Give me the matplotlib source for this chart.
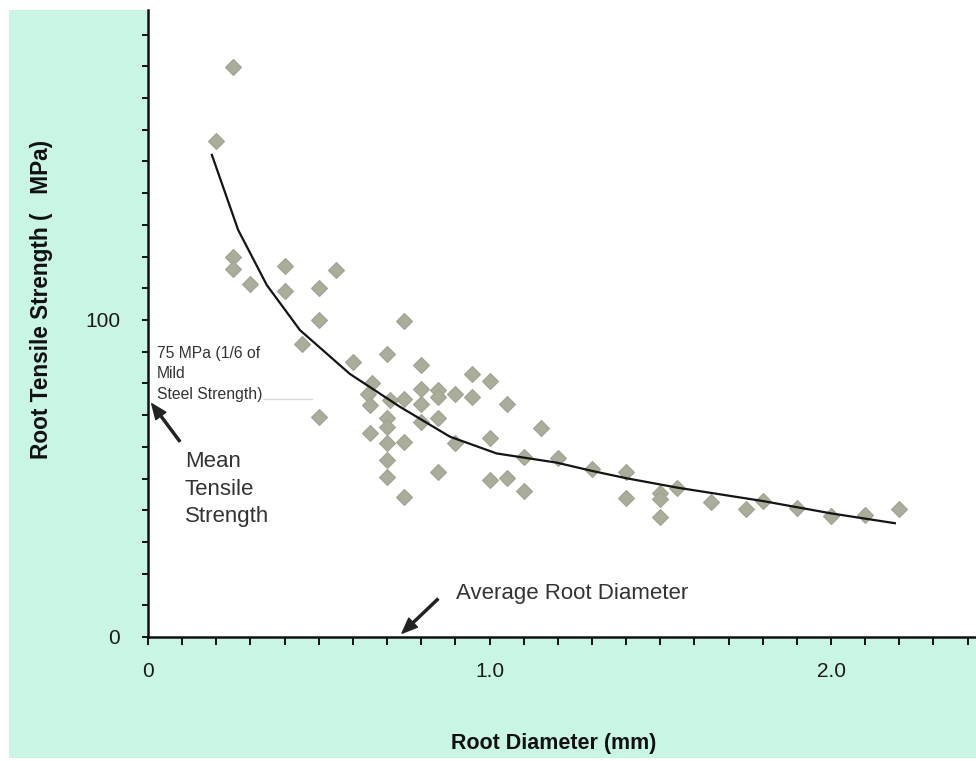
import matplotlib
matplotlib.use("Agg")
import matplotlib.pyplot as plt
from matplotlib.patches import Rectangle
from matplotlib.ticker import MultipleLocator, FixedLocator

plt.rcParams['font.family'] = ['Liberation Sans', 'DejaVu Sans']

# measured roots: diameter (mm) and tensile strength (MPa)
diameter = [0.25, 0.20, 0.25, 0.25, 0.30, 0.40, 0.40, 0.50, 0.55, 0.50,
            0.45, 0.50, 0.60, 0.75, 0.70, 0.80, 0.95, 1.00, 0.655, 0.645,
            0.65, 0.80, 0.85, 0.85, 0.90, 0.95, 0.75, 0.71, 0.80, 1.05,
            0.70, 0.70, 0.80, 0.85, 0.65, 0.70, 0.75, 0.90, 1.00, 1.15,
            0.70, 1.10, 1.20, 1.30, 1.40, 0.70, 0.85, 1.00, 1.05, 1.10,
            0.75, 1.40, 1.50, 1.50, 1.50, 1.55, 1.65, 1.75, 1.80, 1.90,
            2.00, 2.10, 2.20]
strength = [179.8, 156.5, 120.0, 116.1, 111.4, 117.1, 109.1, 110.0, 115.8, 100.0,
            92.4, 69.4, 86.8, 99.8, 89.3, 85.8, 83.0, 80.8, 80.0, 76.6,
            73.2, 78.1, 77.9, 75.8, 76.6, 75.8, 75.1, 74.8, 73.4, 73.5,
            69.2, 66.4, 67.9, 69.0, 64.5, 61.1, 61.6, 61.3, 62.7, 66.0,
            55.8, 56.9, 56.4, 52.9, 52.0, 50.6, 51.9, 49.4, 50.3, 46.1,
            44.1, 43.8, 45.3, 43.6, 37.8, 47.1, 42.5, 40.4, 43.0, 40.6,
            38.3, 38.5, 40.3]

# fitted trend line
fit_d = [0.187, 0.264, 0.348, 0.445, 0.591, 0.738, 0.884, 1.021, 1.197, 1.30,
         1.40, 1.551, 1.80, 2.00, 2.187]
fit_s = [152.1, 128.4, 111.0, 96.8, 83.0, 72.6, 63.2, 57.9, 55.0, 52.4,
         50.1, 47.1, 42.9, 39.0, 35.9]

mild_steel_sixth = 75
avg_diameter = 0.738

MINT = '#c9f6e4'

fig = plt.figure(figsize=(9.76, 7.61), dpi=100, facecolor='white')
fig.patches.append(Rectangle((9 / 976, 3 / 761), 1, 748 / 761,
                             transform=fig.transFigure, facecolor=MINT,
                             edgecolor='none', zorder=-10))

ax = fig.add_axes([148 / 976, 124 / 761, 828 / 976, 627 / 761])
ax.set_facecolor('white')
ax.set_xlim(0, 828 / 341.5)
ax.set_ylim(0, 627 / 3.17)

for s in ['top', 'right']:
    ax.spines[s].set_visible(False)
for s in ['left', 'bottom']:
    ax.spines[s].set_linewidth(1.8)
    ax.spines[s].set_color('#111111')

ax.xaxis.set_major_locator(FixedLocator([0, 1, 2]))
ax.xaxis.set_minor_locator(MultipleLocator(0.1))
ax.set_xticklabels(['0', '1.0', '2.0'])
ax.yaxis.set_major_locator(FixedLocator([0, 100]))
ax.yaxis.set_minor_locator(MultipleLocator(10))
ax.set_yticklabels(['0', '100'])
ax.tick_params(axis='x', which='both', direction='out', length=6, width=1.4,
               color='#111111', labelsize=15, labelcolor='#1a1a1a', pad=12)
ax.tick_params(axis='y', which='both', direction='out', length=4, width=1.4,
               color='#111111', labelsize=15, labelcolor='#1a1a1a', pad=16)

ax.plot(diameter, strength, linestyle='none', marker='D', markersize=8,
        markerfacecolor='#aaad99', markeredgecolor='#a0a38f', markeredgewidth=0.8,
        zorder=3)
ax.plot(fit_d, fit_s, color='#141414', linewidth=1.6, zorder=4)

# faint reference line at 75 MPa
ax.plot([0.34, 0.48], [mild_steel_sixth, mild_steel_sixth], color='#d8d8d8',
        linewidth=1, zorder=1)

ax.text(0.026, 91.8, '75 MPa (1/6 of\nMild\nSteel Strength)', fontsize=11.3,
        color='#333333', va='top', ha='left', linespacing=1.45)

arrow_style = 'simple,head_width=0.9,head_length=1.1,tail_width=0.15'
ax.annotate('', xy=(0.006, mild_steel_sixth - 0.7), xytext=(0.098, 61.0),
            arrowprops=dict(arrowstyle=arrow_style, color='#222222'))
ax.text(0.108, 58.6, 'Mean\nTensile\nStrength', fontsize=16, color='#333333',
        va='top', ha='left', linespacing=1.4)

ax.annotate('', xy=(avg_diameter, 0.6), xytext=(0.855, 12.6),
            arrowprops=dict(arrowstyle=arrow_style, color='#222222'))
ax.text(0.902, 13.8, 'Average Root Diameter', fontsize=16, color='#333333',
        va='center', ha='left')

fig.text(554 / 976, 1 - 743 / 761, 'Root Diameter (mm)', fontsize=15.5,
         fontweight='bold', ha='center', va='center', color='#111111')
fig.text(42 / 976, 1 - 299 / 761, 'Root Tensile Strength (   MPa)', fontsize=16.3,
         fontweight='bold', ha='center', va='center', rotation=90, color='#111111')

fig.savefig('out.png', dpi=100)
